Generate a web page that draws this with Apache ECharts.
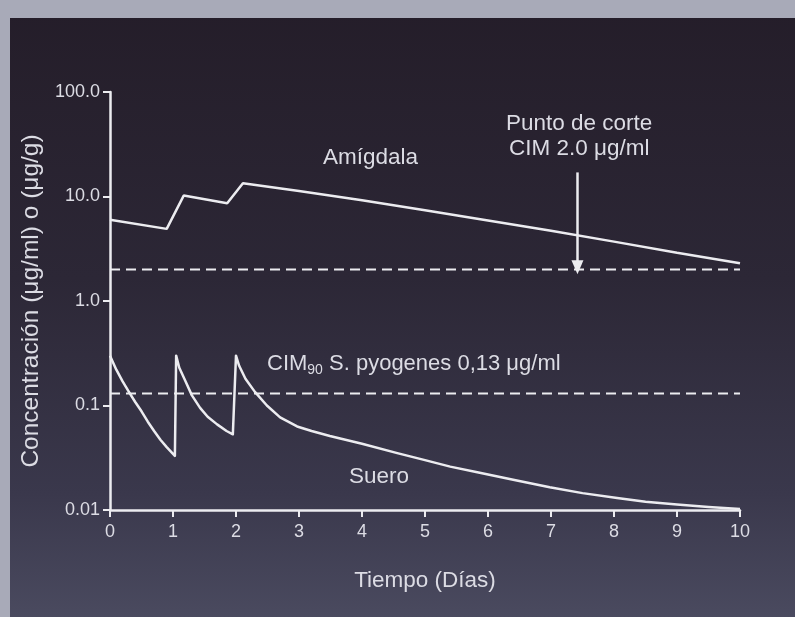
<!DOCTYPE html>
<html>
<head>
<meta charset="utf-8">
<script src="https://cdn.jsdelivr.net/npm/echarts@6/dist/echarts.min.js"></script>
<style>
  html, body { margin: 0; padding: 0; }
  #chart { width: 795px; height: 617px; }
</style>
</head>
<body>
<div id="chart"></div>
<script>
// curvas (dias, concentracion)
var amigdalaX = [0, 0.9, 1.17, 1.86, 2.11, 3, 4, 5, 6, 7, 8, 9, 10]
var amigdalaY = [6.0, 4.9, 10.2, 8.6, 13.4, 11.3, 9.2, 7.4, 5.9, 4.7, 3.7, 2.9, 2.3]
var sueroX = [0, 0.1, 0.2, 0.3, 0.4, 0.5, 0.6, 0.7, 0.8, 0.9, 1.03,
  1.05, 1.1, 1.2, 1.3, 1.43, 1.55, 1.7, 1.85, 1.95,
  2.0, 2.05, 2.15, 2.3, 2.49, 2.7, 2.97, 3.2, 3.49, 4, 4.56, 5, 5.4, 5.83, 6.4, 6.98, 7.5, 8.05, 8.5, 9, 9.5, 10]
var sueroY = [0.30, 0.22, 0.17, 0.135, 0.108, 0.088, 0.07, 0.057, 0.047, 0.040, 0.033,
  0.30, 0.23, 0.17, 0.125, 0.095, 0.078, 0.066, 0.057, 0.053,
  0.30, 0.24, 0.18, 0.135, 0.10, 0.077, 0.063, 0.057, 0.051, 0.043, 0.035, 0.030, 0.026, 0.023, 0.0195, 0.0165, 0.0145, 0.013, 0.012, 0.0113, 0.0107, 0.0102]
var cimCorte = 2.0
var cim90 = 0.13
var flecha = [[7.42, 17], [7.42, 2.1]]
var xTicks = [0, 1, 2, 3, 4, 5, 6, 7, 8, 9, 10]
var yTickLabels = { 0.01: '0.01', 0.1: '0.1', 1: '1.0', 10: '10.0', 100: '100.0' }

var txt = '#dcdce4', line = '#ececf0', font = 'Liberation Sans'
var pares = (xs, ys) => xs.map((x, i) => [x, ys[i]])

var chart = echarts.init(document.getElementById('chart'))
chart.setOption({
  animation: false,
  backgroundColor: {
    type: 'linear', x: 0, y: 0, x2: 0, y2: 1,
    colorStops: [
      { offset: 0, color: '#241d29' },
      { offset: 0.45, color: '#2c2736' },
      { offset: 0.8, color: '#3a384c' },
      { offset: 1, color: '#4a4a5f' }
    ]
  },
  textStyle: { fontFamily: font },
  grid: { left: 110, right: 55, top: 92, bottom: 107 },
  xAxis: {
    type: 'value', min: 0, max: 10, interval: 1,
    name: 'Tiempo (Días)', nameLocation: 'middle', nameGap: 59,
    nameTextStyle: { color: txt, fontSize: 22.5, fontFamily: font },
    axisLine: { lineStyle: { color: line, width: 2.5 } },
    axisTick: { length: 7, lineStyle: { color: line, width: 2 } },
    axisLabel: { color: txt, fontSize: 18, margin: 13, fontFamily: font,
      formatter: v => xTicks.indexOf(v) >= 0 ? String(v) : '' },
    splitLine: { show: false }
  },
  yAxis: {
    type: 'log', logBase: 10, min: 0.01, max: 100,
    name: 'Concentración (μg/ml) o (μg/g)', nameLocation: 'middle', nameGap: 65,
    nameTextStyle: { color: txt, fontSize: 24.5, fontFamily: font },
    axisLine: { lineStyle: { color: line, width: 2.5 } },
    axisTick: { length: 7, lineStyle: { color: line, width: 2 } },
    axisLabel: { color: txt, fontSize: 18, margin: 10, fontFamily: font,
      formatter: v => yTickLabels[v] || String(v) },
    splitLine: { show: false }
  },
  series: [
    {
      name: 'Amígdala', type: 'line', data: pares(amigdalaX, amigdalaY),
      showSymbol: false, lineStyle: { color: line, width: 2.5 }
    },
    {
      name: 'Suero', type: 'line', data: pares(sueroX, sueroY),
      showSymbol: false, lineStyle: { color: line, width: 2.5, join: 'round' }
    },
    {
      type: 'line', data: [[0, cimCorte], [10, cimCorte]], showSymbol: false,
      lineStyle: { color: line, width: 2, type: [10, 6] },
      markLine: {
        silent: true, symbol: ['none', 'triangle'], symbolSize: [12, 14],
        label: { show: false },
        lineStyle: { color: line, width: 2.5, type: 'solid' },
        data: [[{ coord: flecha[0] }, { coord: flecha[1] }]]
      }
    },
    {
      type: 'line', data: [[0, cim90], [10, cim90]], showSymbol: false,
      lineStyle: { color: line, width: 2, type: [10, 6] }
    }
  ],
  graphic: [
    { type: 'rect', left: 0, top: 0, shape: { width: 795, height: 18 }, style: { fill: '#a8aab8' } },
    { type: 'rect', left: 0, top: 0, shape: { width: 10, height: 617 }, style: { fill: '#a8aab8' } },
    { type: 'text', left: 323, top: 146, style: { text: 'Amígdala', fill: txt, font: '22.5px "Liberation Sans"' } },
    { type: 'text', left: 349, top: 465, style: { text: 'Suero', fill: txt, font: '22.5px "Liberation Sans"' } },
    { type: 'text', left: 506, top: 111, style: { text: 'Punto de corte\nCIM 2.0 μg/ml', fill: txt, font: '22.5px "Liberation Sans"', textAlign: 'center', lineHeight: 25 } },
    {
      type: 'text', left: 267, top: 353,
      style: {
        text: '{a|CIM}{s|90}{a| S. pyogenes 0,13 μg/ml}', fill: txt,
        rich: {
          a: { fontSize: 22, fontFamily: font, color: txt, lineHeight: 26, verticalAlign: 'middle' },
          s: { fontSize: 14, fontFamily: font, color: txt, lineHeight: 26, verticalAlign: 'bottom', padding: [9, 0, 0, 0] }
        }
      }
    }
  ]
})
</script>
</body>
</html>
